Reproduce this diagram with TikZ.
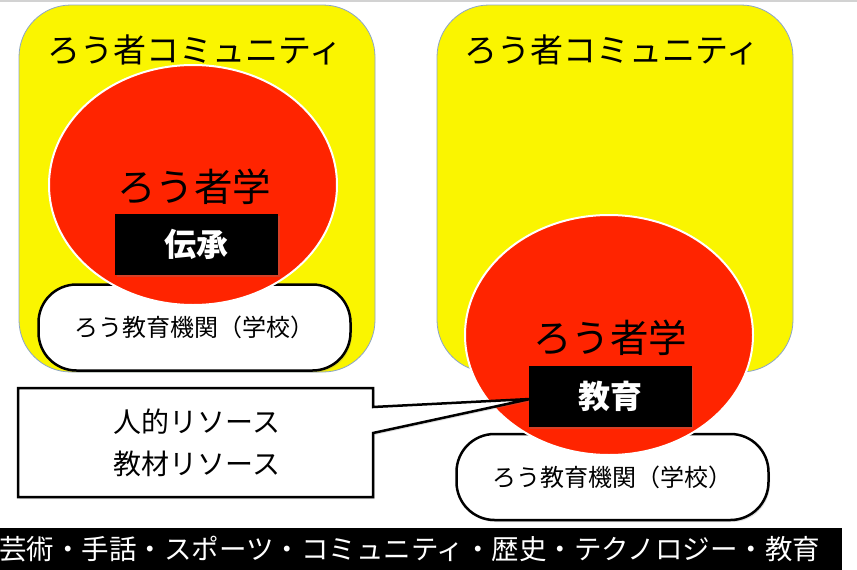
\documentclass[tikz,border=0pt]{standalone}
\usepackage{fontspec}
\setmainfont{Noto Sans CJK JP}
\usetikzlibrary{shapes.geometric,shadows,calc}
\definecolor{yel}{RGB}{250,245,0}
\definecolor{redc}{RGB}{255,36,0}
\definecolor{bordblue}{RGB}{140,165,200}
\begin{document}
\begin{tikzpicture}[x=1pt,y=-1pt,
  community/.style={draw=bordblue, line width=0.8pt, fill=yel, rounded corners=52pt,
    minimum width=356pt, minimum height=367pt, inner sep=0pt},
  titletext/.style={font=\fontsize{33}{33}\selectfont, inner sep=0pt},
  school/.style={draw=black, line width=2.5pt, fill=white, rounded corners=38pt,
    minimum width=312pt, minimum height=86pt, inner sep=0pt,
    font=\fontsize{24}{24}\selectfont,
    drop shadow={opacity=0.25, shadow xshift=1.5pt, shadow yshift=-2pt}},
  study/.style={ellipse, draw=white, line width=2pt, fill=redc,
    minimum width=288pt, minimum height=240pt, inner sep=0pt},
  studytext/.style={font=\fontsize{38.5}{38.5}\selectfont, inner sep=0pt},
  keybox/.style={fill=black, minimum width=163pt, minimum height=61pt, inner sep=0pt,
    text=white, font=\bfseries\fontsize{32}{32}\selectfont,
    drop shadow={opacity=0.3, shadow xshift=1.5pt, shadow yshift=-1.5pt}},
  restext/.style={align=center, inner sep=0pt, outer sep=0pt,
    minimum width=355pt, minimum height=109pt, font=\fontsize{28}{42}\selectfont},
  calloutline/.style={draw=black, line width=2.5pt, fill=white,
    drop shadow={opacity=0.25, shadow xshift=1.5pt, shadow yshift=-2pt}},
  barbox/.style={fill=black, minimum width=842pt, minimum height=42pt, inner sep=0pt},
  bartext/.style={text=white, font=\fontsize{27.5}{27.5}\selectfont, inner sep=0pt, anchor=west}
]
\useasboundingbox (0,0) rectangle (857,570);
\fill[white] (0,0) rectangle (857,570);
\draw[gray!35, line width=1.2pt] (0,1) -- (857,1);

% left
\node[community] (comL) at (197,188.5) {};
\node[titletext] (titleL) at (195,50) {ろう者コミュニティ};
\node[school] (schoolL) at (194.5,327.5) {ろう教育機関（学校）};
\node[study] (studyL) at (193,185) {};
\node[studytext] (studytL) at (194,187) {ろう者学};
\node[keybox] (keyL) at (196.5,244.5) {伝承};

% right
\node[community] (comR) at (615,188.5) {};
\node[titletext] (titleR) at (612,50) {ろう者コミュニティ};
\node[school] (schoolR) at (612.5,477) {ろう教育機関（学校）};
\node[study] (studyR) at (609,335) {};
\node[studytext] (studytR) at (610,338) {ろう者学};

% callout
\node[restext] (res) at (195.5,442.5) {};
\coordinate (tip) at (530,399);
\path[calloutline] (res.north west) -- (res.north east) -- ($(res.north east)+(0,19)$)
  -- (tip) -- ($(res.north east)+(0,45)$) -- (res.south east) -- (res.south west) -- cycle;
\node[restext] (restx) at (197,442.5) {人的リソース\\教材リソース};
\node[keybox] (keyR) at (610,396.5) {教育};

% bottom bar
\node[barbox] (bar) at (421,549) {};
\node[bartext] (bartx) at (-1,549) {芸術・手話・スポーツ・コミュニティ・歴史・テクノロジー・教育};
\end{tikzpicture}
\end{document}
